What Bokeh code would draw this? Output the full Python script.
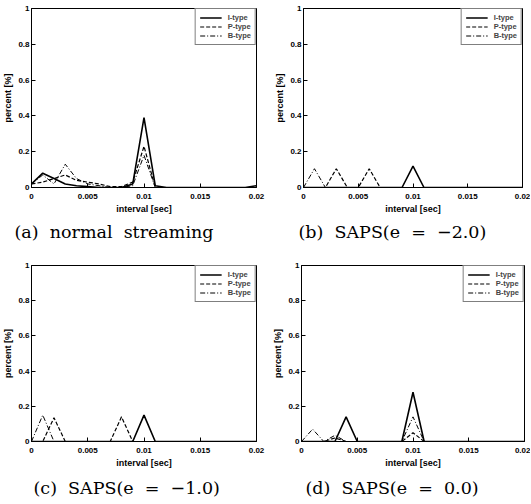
from bokeh.plotting import figure
from bokeh.layouts import column, row
from bokeh.models import FixedTicker, CustomJSTickFormatter, Range1d, Legend, LegendItem
from bokeh.embed import file_html
from bokeh.resources import INLINE

# interval axis values (sec)
interval = [0.000, 0.001, 0.002, 0.003, 0.004, 0.005, 0.006, 0.007, 0.008, 0.009, 0.010,
            0.011, 0.012, 0.013, 0.014, 0.015, 0.016, 0.017, 0.018, 0.019, 0.020]

# (a) normal streaming
a_I = [0.02, 0.08, 0.05, 0.02, 0.01, 0.005, 0, 0, 0, 0.02, 0.39, 0.01, 0, 0, 0, 0, 0, 0, 0, 0, 0.01]
a_P = [0.02, 0.03, 0.05, 0.07, 0.04, 0.03, 0.02, 0.005, 0.005, 0.03, 0.23, 0, 0, 0, 0, 0, 0, 0, 0, 0, 0]
a_B = [0.02, 0.07, 0.02, 0.13, 0.05, 0.02, 0.01, 0, 0, 0.01, 0.18, 0, 0, 0, 0, 0, 0, 0, 0, 0, 0]
# (b) SAPS(e = -2.0)
b_I = [0, 0, 0, 0, 0, 0, 0, 0, 0, 0, 0.12, 0, 0, 0, 0, 0, 0, 0, 0, 0, 0]
b_P = [0, 0, 0, 0.105, 0, 0, 0.105, 0, 0, 0, 0, 0, 0, 0, 0, 0, 0, 0, 0, 0, 0]
b_B = [0, 0.105, 0, 0, 0, 0, 0, 0, 0, 0, 0, 0, 0, 0, 0, 0, 0, 0, 0, 0, 0]
# (c) SAPS(e = -1.0)
c_I = [0, 0, 0, 0, 0, 0, 0, 0, 0, 0, 0.15, 0, 0, 0, 0, 0, 0, 0, 0, 0, 0]
c_P = [0, 0, 0.135, 0, 0, 0, 0, 0, 0.14, 0, 0, 0, 0, 0, 0, 0, 0, 0, 0, 0, 0]
c_B = [0, 0.15, 0, 0, 0, 0, 0, 0, 0, 0, 0, 0, 0, 0, 0, 0, 0, 0, 0, 0, 0]
# (d) SAPS(e = 0.0)
d_I = [0, 0, 0, 0, 0.14, 0, 0, 0, 0, 0, 0.28, 0, 0, 0, 0, 0, 0, 0, 0, 0, 0]
d_P = [0, 0, 0, 0.02, 0, 0, 0, 0, 0, 0, 0.05, 0, 0, 0, 0, 0, 0, 0, 0, 0, 0]
d_B = [0, 0.07, 0, 0.035, 0, 0, 0, 0, 0, 0, 0.14, 0, 0, 0, 0, 0, 0, 0, 0, 0, 0]

x_ticks = [0, 0.005, 0.01, 0.015, 0.02]
y_ticks = [0, 0.2, 0.4, 0.6, 0.8, 1.0]
series_names = ["I-type", "P-type", "B-type"]
NB = "\u00a0"
captions = ["(a)" + NB * 2 + "normal" + NB * 2 + "streaming",
            "(b)" + NB * 2 + "SAPS(e" + NB * 2 + "=" + NB * 2 + "\u22122.0)",
            "(c)" + NB * 2 + "SAPS(e" + NB * 2 + "=" + NB * 2 + "\u22121.0)",
            "(d)" + NB * 2 + "SAPS(e" + NB * 2 + "=" + NB * 2 + "0.0)"]

SANS = "Liberation Sans"
fmt = CustomJSTickFormatter(code="return String(Math.round(tick*1000)/1000);")


def panel(ys, caption, width, height, bl, br, bt, bb, cap_offset, cap_standoff):
    p = figure(width=width, height=height, output_backend="svg", toolbar_location=None,
               x_range=Range1d(0, 0.02), y_range=Range1d(0, 1),
               title=caption, title_location="below",
               min_border_left=bl, min_border_right=br, min_border_top=bt, min_border_bottom=bb)
    p.title.text_font = "DejaVu Serif"
    p.title.text_font_size = "17.5px"
    p.title.text_font_style = "normal"
    p.title.text_color = "black"
    p.title.align = "left"
    p.title.offset = cap_offset
    p.title.standoff = cap_standoff
    p.grid.visible = False
    p.outline_line_color = "black"
    p.outline_line_width = 1
    p.background_fill_color = "white"
    p.border_fill_color = "white"
    for ax in (p.xaxis[0], p.yaxis[0]):
        ax.ticker = FixedTicker(ticks=x_ticks if ax is p.xaxis[0] else y_ticks)
        ax.formatter = fmt
        ax.major_tick_in = 4
        ax.major_tick_out = 0
        ax.minor_tick_line_color = None
        ax.major_label_text_font = SANS
        ax.major_label_text_font_size = "8px"
        ax.major_label_text_font_style = "bold"
        ax.major_label_text_color = "black"
        ax.axis_label_text_font = SANS
        ax.axis_label_text_font_size = "9px"
        ax.axis_label_text_font_style = "bold"
        ax.axis_label_text_color = "black"
        ax.axis_line_color = "black"
    p.xaxis.major_label_standoff = 6
    p.xaxis.axis_label_standoff = 2
    p.yaxis.major_label_standoff = 2
    p.yaxis.axis_label_standoff = 2
    p.xaxis.axis_label = "interval [sec]"
    p.yaxis.axis_label = "percent [%]"

    dashes = ["solid", "4 2", "5 2 1 2"]
    widths = [1.6, 1.2, 1.0]
    items = []
    for y, name, d, w in zip(ys, series_names, dashes, widths):
        r = p.line(interval, y, line_color="black", line_width=w, line_dash=d)
        items.append(LegendItem(label=name, renderers=[r]))
    leg = Legend(items=items, location="top_right", margin=0, padding=4, spacing=0,
                 label_text_font=SANS, label_text_font_size="7.5px", label_text_font_style="bold",
                 label_height=9, glyph_height=9, glyph_width=22, label_standoff=6,
                 border_line_color="black", border_line_width=1, background_fill_alpha=1)
    p.add_layout(leg)
    return p


pa = panel([a_I, a_P, a_B], captions[0], 265, 250, 31, 9, 8, 63, -17, 7)
pb = panel([b_I, b_P, b_B], captions[1], 265, 250, 38, 8, 8, 63, -5, 7)
pc = panel([c_I, c_P, c_B], captions[2], 265, 253, 31, 9, 15, 58, 2, 11)
pd = panel([d_I, d_P, d_B], captions[3], 265, 253, 36, 6, 15, 58, 4, 11)

layout = column(row(pa, pb, spacing=0), row(pc, pd, spacing=0), spacing=0)
open("out.html", "w").write(file_html(layout, INLINE))
